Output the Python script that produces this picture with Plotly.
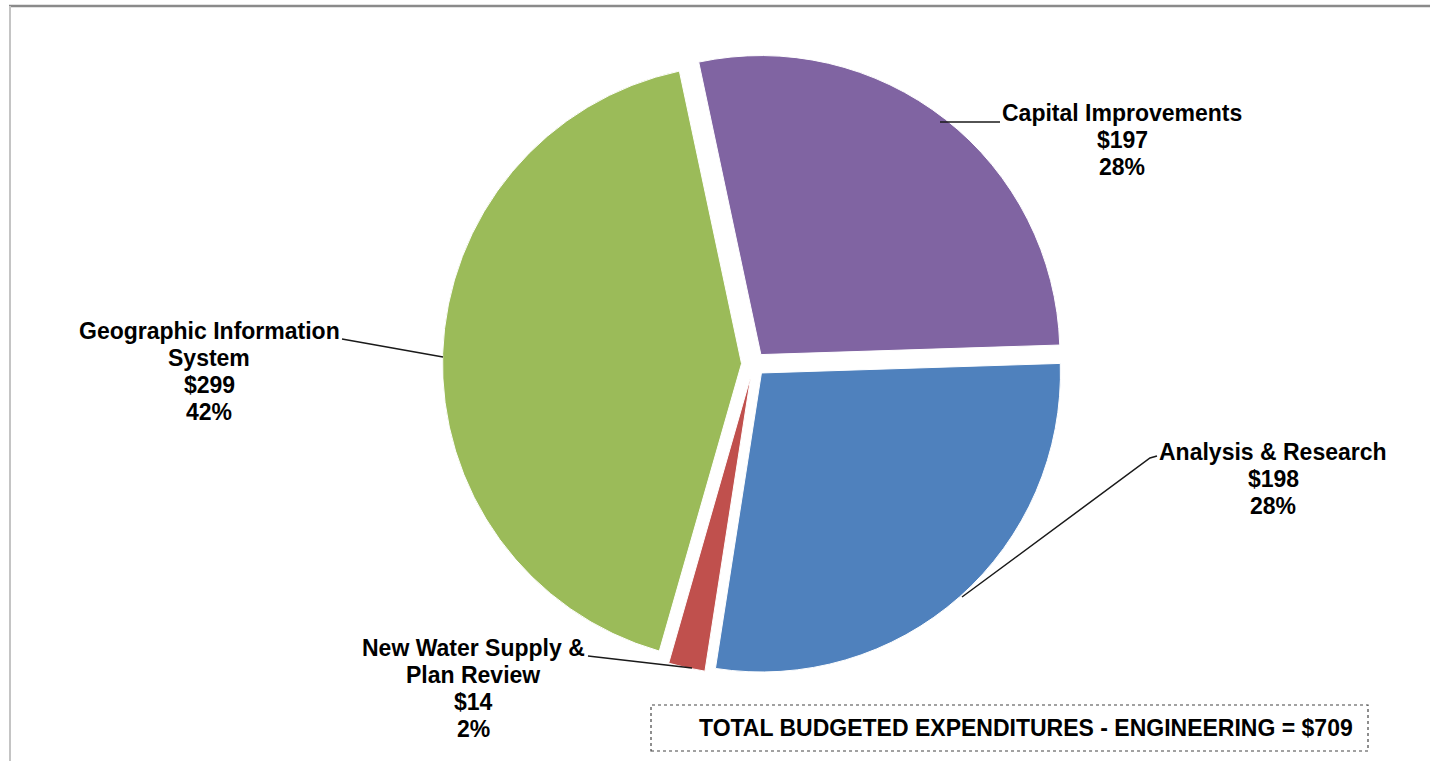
import plotly.graph_objects as go

# Engineering budget by program area ($000)
programs = ["Capital Improvements", "Analysis & Research", "New Water Supply & Plan Review", "Geographic Information System"]
label_lines = [["Capital Improvements"], ["Analysis & Research"], ["New Water Supply &", "Plan Review"], ["Geographic Information", "System"]]
amounts = [197, 198, 14, 299]
total_budget = 709
colors = ["#8064A2", "#4F81BD", "#C0504D", "#9BBB59"]

W, H = 1430, 761


def px(x):
    return x / W


def py(y):
    return 1 - y / H


fig = go.Figure(go.Pie(
    labels=programs,
    values=amounts,
    sort=False,
    direction="clockwise",
    rotation=-12,
    pull=[0.04] * len(amounts),
    marker=dict(colors=colors, line=dict(color="white", width=1)),
    textinfo="none",
    hoverinfo="label+value+percent",
    showlegend=False,
    domain=dict(x=[px(442.5), px(1064.5)], y=[py(675), py(53)]),
))

# label block centres and leader-line paths (pixel space)
label_pos = [(1122, 140), (1273, 479), (473, 688.5), (209, 371.5)]
leaders = [
    [(940, 122), (1000, 122)],
    [(962, 597), (1150, 458), (1157, 456)],
    [(692, 668), (588, 656)],
    [(443, 357), (342, 339)],
]
line_gap = 27

font = dict(family="Liberation Sans, Arial, sans-serif", size=23, color="black")
annotations = []
for lines, amt, (lx, ly) in zip(label_lines, amounts, label_pos):
    pct = round(100 * amt / total_budget)
    rows = lines + [f"${amt}", f"{pct}%"]
    n = len(rows)
    for i, row in enumerate(rows):
        yy = ly + (i - (n - 1) / 2) * line_gap
        annotations.append(dict(x=px(lx), y=py(yy), xref="paper", yref="paper", text=f"<b>{row}</b>",
                                showarrow=False, xanchor="center", yanchor="middle", font=font))

annotations.append(dict(x=px(1026), y=py(728), xref="paper", yref="paper",
                        text=f"<b>TOTAL BUDGETED EXPENDITURES - ENGINEERING = ${total_budget}</b>",
                        showarrow=False, xanchor="center", yanchor="middle", font=font))

shapes = []
for path in leaders:
    d = "M " + " L ".join(f"{px(x)},{py(y)}" for x, y in path)
    shapes.append(dict(type="path", path=d, xref="paper", yref="paper",
                       line=dict(color="#1a1a1a", width=1.5)))

# total box
shapes.append(dict(type="rect", xref="paper", yref="paper", x0=px(651), x1=px(1368), y0=py(751), y1=py(705),
                   line=dict(color="#444444", width=1.2, dash="dot")))
# frame lines
shapes.append(dict(type="line", xref="paper", yref="paper", x0=px(9), x1=1, y0=py(6), y1=py(6),
                   line=dict(color="#8a8a8a", width=2.5)))
shapes.append(dict(type="line", xref="paper", yref="paper", x0=px(10), x1=px(10), y0=py(6), y1=0,
                   line=dict(color="#c4c4c4", width=2)))

fig.update_layout(
    width=W, height=H,
    margin=dict(l=0, r=0, t=0, b=0),
    paper_bgcolor="white", plot_bgcolor="white",
    annotations=annotations, shapes=shapes,
)

fig.write_html("out.html")
